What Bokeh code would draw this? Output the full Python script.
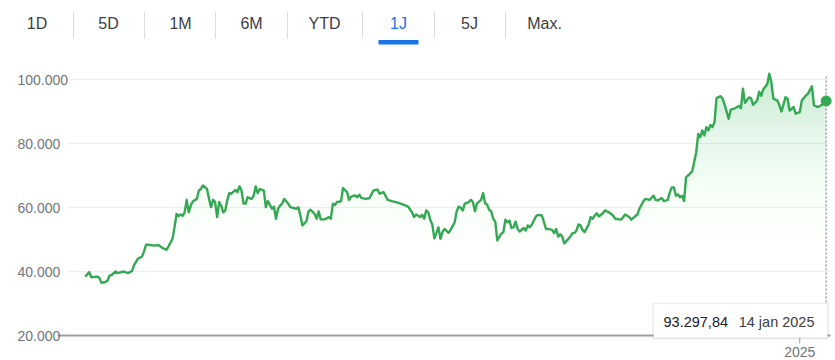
import numpy as np
import pandas as pd
from bokeh.plotting import figure
from bokeh.models import Range1d
from bokeh.embed import file_html
from bokeh.resources import INLINE
from bokeh.core.properties import value

# ---------------- data ----------------
START = pd.Timestamp("2024-01-15")
day_offsets = [
    0, 2, 3, 6, 7, 8, 10, 11, 12, 13,
    15, 16, 19, 21, 23, 24, 26, 28, 29, 30,
    32, 34, 36, 38, 40, 41, 43, 44, 45, 46,
    47, 48, 49, 50, 51, 52, 53, 55, 56, 57,
    58, 60, 61, 62, 63, 64, 65, 66, 67, 68,
    69, 70, 71, 72, 74, 75, 76, 77, 78, 79,
    80, 82, 83, 84, 85, 86, 88, 89, 90, 92,
    93, 94, 95, 96, 97, 98, 100, 101, 104, 105,
    106, 107, 109, 110, 111, 113, 114, 115, 116, 118,
    120, 121, 122, 123, 124, 126, 127, 129, 130, 131,
    133, 134, 135, 136, 138, 140, 141, 142, 144, 145,
    147, 149, 151, 154, 157, 159, 161, 162, 163, 165,
    166, 167, 168, 169, 170, 171, 172, 173, 174, 175,
    176, 177, 179, 180, 182, 183, 184, 185, 186, 187,
    189, 190, 191, 192, 193, 195, 196, 197, 198, 199,
    200, 201, 202, 203, 205, 206, 207, 208, 209, 210,
    211, 212, 213, 214, 216, 217, 218, 219, 220, 222,
    223, 225, 226, 227, 228, 230, 231, 232, 233, 234,
    235, 236, 237, 239, 240, 241, 242, 243, 244, 245,
    246, 248, 249, 250, 251, 252, 253, 255, 256, 258,
    260, 261, 264, 266, 268, 269, 272, 273, 275, 276,
    278, 279, 280, 281, 282, 284, 285, 287, 288, 289,
    290, 291, 292, 293, 294, 295, 296, 297, 299, 300,
    301, 302, 303, 304, 305, 306, 307, 308, 309, 310,
    311, 313, 314, 315, 317, 318, 320, 322, 323, 324,
    325, 327, 328, 329, 331, 332, 333, 334, 336, 337,
    338, 339, 341, 342, 343, 345, 346, 347, 349, 350,
    352, 353, 355, 356, 358, 359, 361, 363, 365,
]
prices = [
    38400, 39800, 38200, 38400, 38000, 36500, 36700, 37200, 38700, 38900,
    40000, 39500, 40000, 39500, 40100, 41900, 44000, 44700, 46300, 48400,
    48300, 48100, 48300, 47400, 46800, 47800, 50200, 53800, 58000, 57300,
    57800, 57400, 58500, 62400, 58500, 60600, 61900, 62700, 65300, 65800,
    66900, 65800, 62700, 60100, 62400, 61700, 57000, 61700, 60600, 58500,
    59100, 62400, 64500, 64300, 65500, 64800, 66600, 65300, 61200, 61200,
    63200, 62700, 63700, 66600, 64500, 65800, 65300, 60100, 62000, 59600,
    60300, 56500, 59600, 60600, 61200, 62700, 61200, 60100, 59600, 60100,
    57500, 54400, 55700, 58800, 59300, 58000, 56500, 58800, 56300, 56300,
    57000, 56500, 61200, 60800, 61700, 61900, 66100, 64800, 62400, 63400,
    63800, 63200, 64000, 63000, 62700, 62900, 64100, 65300, 65600, 64300,
    64800, 62400, 62000, 61500, 60800, 60300, 58500, 57000, 57800, 57000,
    57700, 56500, 59100, 58500, 56200, 54600, 50400, 52000, 53800, 50200,
    52300, 53300, 52100, 53000, 55400, 58800, 60300, 59900, 59100, 61200,
    61700, 62400, 61700, 58800, 61300, 62400, 64500, 61300, 60900, 59300,
    58800, 56500, 55600, 49700, 51800, 52300, 56200, 55400, 55900, 53600,
    53800, 55600, 53300, 52500, 53600, 52800, 54400, 53800, 54600, 57200,
    57700, 57500, 55400, 53300, 53300, 53000, 52000, 53300, 50900, 51600,
    50900, 48800, 49500, 50900, 52000, 52000, 52800, 54700, 54400, 53000,
    52300, 54700, 57000, 56500, 57500, 58200, 57200, 58200, 59100, 58500,
    57500, 56500, 56200, 57800, 57000, 56200, 57800, 59600, 62000, 62700,
    62400, 63000, 63700, 62400, 62200, 63000, 62000, 62400, 64800, 66300,
    66300, 63700, 64100, 63200, 63700, 62000, 69500, 70000, 71300, 74200,
    77300, 83000, 82000, 84100, 82500, 85100, 84100, 85800, 85100, 86700,
    94200, 94800, 94000, 92100, 87700, 90600, 91000, 91700, 91000, 97100,
    92700, 94400, 94200, 92100, 93400, 96200, 94900, 96900, 98600, 101800,
    99200, 94000, 93400, 91900, 90000, 94500, 94000, 90300, 91400, 89300,
    89800, 93400, 95000, 95500, 97900, 91900, 91400, 92100, 93297.84,
]
assert len(day_offsets) == len(prices)

y_ticks = [20000, 40000, 60000, 80000, 100000]
y_tick_labels = ["20.000", "40.000", "60.000", "80.000", "100.000"]
x_tick_dates = ["2025-01-01"]
x_tick_labels = ["2025"]
tabs = ["1D", "5D", "1M", "6M", "YTD", "1J", "5J", "Max."]
active_tab = "1J"
months_nl = ["jan", "feb", "mrt", "apr", "mei", "jun",
             "jul", "aug", "sep", "okt", "nov", "dec"]

# ---------------- layout constants (picture pixels) ----------------
W, H = 835, 360
ORIGIN_X, ORIGIN_Y = 0, 0   # picture position of the canvas corner
X_FIRST_PX = 84.7     # picture x of first date
PX_PER_DAY = 2.030
Y_BASE_PX = 335.0     # picture y of 20.000
PX_PER_EUR = 64.0 / 20000.0
FONT = "Liberation Sans"
GREEN = "#34a853"


def to_ms(ts):
    return pd.Timestamp(ts).value / 1e6


def xpx(px):
    return to_ms(START) + (px - X_FIRST_PX) / PX_PER_DAY * 86400000.0


def ypx(py):
    return 20000 + (Y_BASE_PX - py) / PX_PER_EUR


dates = START + pd.to_timedelta(day_offsets, unit="D")
xs = np.array([to_ms(d) for d in dates])
ys = np.array(prices, dtype=float)

p = figure(width=W, height=H,
           x_range=Range1d(xpx(ORIGIN_X), xpx(ORIGIN_X + W)),
           y_range=Range1d(ypx(ORIGIN_Y + H), ypx(ORIGIN_Y)),
           x_axis_type=None, y_axis_type=None,
           toolbar_location=None, output_backend="svg",
           min_border=0, outline_line_color=None)
p.background_fill_color = "white"
p.border_fill_color = "white"

# ---- tab bar ----
tab_centers = [36.5, 108, 180, 251, 324, 398, 469, 544]
sep_xs = [73, 144, 215, 287, 362, 434, 505]
p.text(x=[xpx(c) for c in tab_centers], y=[ypx(23)] * len(tabs), text=tabs,
       text_align="center", text_baseline="middle",
       text_font=value(FONT), text_font_size="16px",
       text_color=["#1a73e8" if t == active_tab else "#3c4043" for t in tabs])
p.segment(x0=[xpx(s) for s in sep_xs], x1=[xpx(s) for s in sep_xs],
          y0=[ypx(11)] * len(sep_xs), y1=[ypx(38)] * len(sep_xs),
          line_color="#dadce0", line_width=1)
ai = tabs.index(active_tab)
p.quad(left=[xpx(tab_centers[ai] - 20)], right=[xpx(tab_centers[ai] + 20)],
       top=[ypx(39.5)], bottom=[ypx(44)], fill_color="#1a73e8", line_color=None)

# ---- gridlines ----
grid_vals = [t for t in y_ticks if t != y_ticks[0]]
p.segment(x0=[xpx(68)] * len(grid_vals), x1=[xpx(829)] * len(grid_vals),
          y0=grid_vals, y1=grid_vals, line_color="#eeeeee", line_width=1)

# ---- gradient fill (stacked translucent layers) ----
levels = np.arange(20000, 104000, 2000)


def target_alpha(v):
    t = min(max((v - 20000) / 82000.0, 0.0), 1.0)
    return 0.26 * t ** 3


prev = 0.0
for L in levels:
    A = target_alpha(L + 1000)
    a = 1 - (1 - A) / (1 - prev)
    prev = A
    p.varea(x=xs, y1=np.minimum(ys, L), y2=ys, fill_color=GREEN, fill_alpha=a)

# ---- baseline ----
p.segment(x0=[xpx(57)], x1=[xpx(830)], y0=[y_ticks[0]], y1=[y_ticks[0]],
          line_color="#9aa0a6", line_width=2)

# ---- price line ----
p.line(xs, ys, line_color=GREEN, line_width=2.4, line_join="round")

# ---- dotted cursor line and end dot ----
p.segment(x0=[xs[-1]], x1=[xs[-1]], y0=[ypx(76)], y1=[y_ticks[0]],
          line_color="#9aa0a6", line_width=1.5, line_dash="2 2")
p.scatter([xs[-1]], [ys[-1]], size=10, fill_color=GREEN, line_color=GREEN)

# ---- y tick labels ----
p.text(x=[xpx(17)] * len(y_ticks), y=y_ticks, text=y_tick_labels,
       text_align="left", text_baseline="middle",
       text_font=value(FONT), text_font_size="14px", text_color="#70757a")

# ---- x tick ----
xt = [to_ms(d) for d in x_tick_dates]
p.segment(x0=xt, x1=xt, y0=[ypx(337)] * len(xt), y1=[ypx(343)] * len(xt),
          line_color="#9aa0a6", line_width=1)
p.text(x=xt, y=[ypx(351)] * len(xt), text=x_tick_labels,
       text_align="center", text_baseline="middle",
       text_font=value(FONT), text_font_size="14px", text_color="#70757a")

# ---- tooltip ----
p.quad(left=[xpx(651.5)], right=[xpx(828.5)], top=[ypx(302.5)], bottom=[ypx(339)],
       fill_color="black", fill_alpha=0.06, line_color=None)
p.quad(left=[xpx(652.5)], right=[xpx(827.5)], top=[ypx(302.5)], bottom=[ypx(338)],
       fill_color="black", fill_alpha=0.08, line_color=None)
p.quad(left=[xpx(653)], right=[xpx(827)], top=[ypx(303)], bottom=[ypx(337)],
       fill_color="white", line_color=None)

last_val = f"{ys[-1]:,.2f}".replace(",", "X").replace(".", ",").replace("X", ".")
last_date = dates[-1]
last_date_txt = f"{last_date.day} {months_nl[last_date.month - 1]} {last_date.year}"
p.text(x=[xpx(663)], y=[ypx(321)], text=[last_val],
       text_align="left", text_baseline="middle",
       text_font=value(FONT), text_font_size="14.5px", text_color="#202124")
p.text(x=[xpx(814)], y=[ypx(321)], text=[last_date_txt],
       text_align="right", text_baseline="middle",
       text_font=value(FONT), text_font_size="14.5px", text_color="#3c4043")

open("out.html", "w").write(file_html(p, INLINE, title="Koers"))
